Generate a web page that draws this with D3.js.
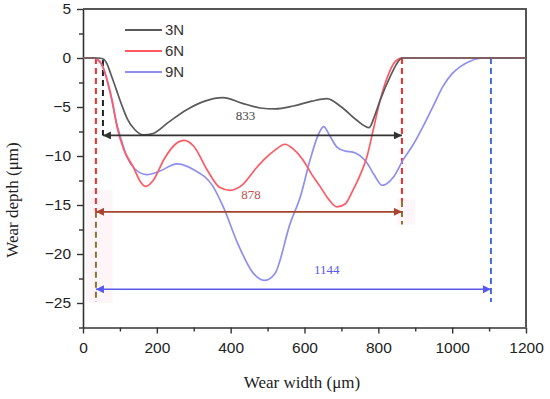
<!DOCTYPE html>
<html>
<head>
<meta charset="utf-8">
<script src="https://cdn.jsdelivr.net/npm/d3@7"></script>
<style>
  body { margin: 0; background: #fff; }
  svg { display: block; }
</style>
</head>
<body>
<div id="chart"></div>
<script>
// profile data (x in um, depth in um)
const x3N = [0, 40, 55, 65, 75, 90, 105, 120, 140, 163, 190, 230, 280, 330, 379, 430, 480, 520, 570, 620, 661, 700, 740, 775, 790, 805, 832, 853, 864, 900, 1200];
const y3N = [0, 0, -0.1, -0.6, -1.6, -3.2, -4.8, -6.2, -7.3, -7.85, -7.7, -6.6, -5.3, -4.4, -4.05, -4.6, -5.1, -5.2, -4.9, -4.4, -4.15, -5.0, -6.3, -7.1, -5.9, -4.3, -1.9, -0.4, 0, 0, 0];

const x6N = [0, 30, 40, 55, 65, 80, 92, 110, 136, 155, 170, 190, 220, 250, 274, 300, 336, 370, 398, 430, 470, 498, 520, 547, 570, 596, 620, 642, 665, 688, 710, 731, 750, 769, 787, 805, 825, 845, 864, 900, 1200];
const y6N = [0, 0, -0.2, -1.0, -2.2, -4.5, -7.0, -9.3, -11.1, -12.6, -13.1, -12.5, -10.3, -8.8, -8.4, -9.0, -11.4, -13.2, -13.5, -13.0, -11.2, -10.1, -9.4, -8.8, -9.3, -10.4, -11.9, -13.1, -14.4, -15.2, -14.9, -13.5, -12.0, -10.1, -7.2, -4.3, -1.9, -0.4, 0, 0, 0];

const x9N = [0, 30, 45, 60, 75, 90, 105, 119, 140, 173, 210, 254, 300, 352, 380, 420, 460, 493, 520, 561, 590, 615, 640, 652, 668, 688, 710, 731, 769, 790, 810, 840, 867, 895, 921, 950, 975, 1000, 1021, 1050, 1084, 1200];
const y9N = [0, 0, -0.3, -1.6, -3.8, -6.5, -8.5, -10.1, -11.3, -11.9, -11.5, -10.8, -11.4, -13.1, -15.2, -19.0, -21.9, -22.7, -22.0, -16.9, -14.0, -10.4, -7.6, -7.0, -7.9, -9.1, -9.5, -9.6, -10.7, -12.0, -13.0, -12.2, -10.4, -8.8, -7.0, -4.8, -2.9, -1.6, -0.9, -0.3, 0, 0];

const seriesNames = ["3N", "6N", "9N"];
const seriesColors = ["#5a5a5a", "#ff5a64", "#8f8ff2"];

// width annotations: [left x, right x, arrow depth, label]
const spanLabels = ["833", "878", "1144"];
const spanLeft = [54, 35, 35];
const spanRight = [864, 864, 1105];
const spanDepth = [-7.9, -15.7, -23.6];
const spanColors = ["#333333", "#a8432f", "#5858ee"];
const labelColors = ["#444444", "#c0504d", "#5a5af0"];

const xTicks = [0, 200, 400, 600, 800, 1000, 1200];
const yTicks = [5, 0, -5, -10, -15, -20, -25];

const W = 550, H = 399;
const svg = d3.select("#chart").append("svg").attr("width", W).attr("height", H);

const x = d3.scaleLinear().domain([0, 1200]).range([83, 526]);
const y = d3.scaleLinear().domain([-27.5, 5]).range([327.5, 9]);

const defs = svg.append("defs");
spanColors.forEach((c, i) => {
  defs.append("marker")
    .attr("id", "arr" + i)
    .attr("viewBox", "0 0 10 10")
    .attr("refX", 10).attr("refY", 5)
    .attr("markerWidth", 9).attr("markerHeight", 8)
    .attr("markerUnits", "userSpaceOnUse")
    .attr("orient", "auto-start-reverse")
    .append("path").attr("d", "M0,0L10,5L0,10Z").attr("fill", c);
});

// faint pink highlight around the red span ends
const pink = svg.append("g").attr("fill", "#fdeef3").attr("opacity", 0.6);
pink.append("rect")
  .attr("x", x(8)).attr("y", y(-13.5))
  .attr("width", x(80) - x(8)).attr("height", y(-25) - y(-13.5));
pink.append("rect")
  .attr("x", x(850)).attr("y", y(-14.4))
  .attr("width", x(900) - x(850)).attr("height", y(-17) - y(-14.4));

// axes
const axisColor = "#333";
const xAxis = svg.append("g").attr("transform", `translate(0,${y(-27.5)})`)
  .call(d3.axisBottom(x).tickValues(xTicks).tickSize(6).tickSizeOuter(0).tickFormat(d3.format("d")));
svg.append("g").attr("transform", `translate(0,${y(-27.5)})`)
  .call(d3.axisBottom(x).tickValues(d3.range(100, 1200, 200)).tickSize(4).tickFormat(""))
  .select(".domain").remove();
const yAxis = svg.append("g").attr("transform", `translate(${x(0)},0)`)
  .call(d3.axisLeft(y).tickValues(yTicks).tickSize(6).tickSizeOuter(0)
    .tickFormat(d => d < 0 ? "\u2212" + Math.abs(d) : d));
svg.append("g").attr("transform", `translate(${x(0)},0)`)
  .call(d3.axisLeft(y).tickValues([2.5, -2.5, -7.5, -12.5, -17.5, -22.5, -27.5]).tickSize(4).tickFormat(""))
  .select(".domain").remove();

svg.selectAll(".domain").attr("stroke", axisColor).attr("stroke-width", 1.6);
svg.selectAll(".tick line").attr("stroke", axisColor).attr("stroke-width", 1.4);
xAxis.selectAll("text").attr("font-family", "Liberation Sans, Arial, sans-serif")
  .attr("font-size", 15.5).attr("fill", "#222").attr("dy", "1.05em");
yAxis.selectAll("text").attr("font-family", "Liberation Sans, Arial, sans-serif")
  .attr("font-size", 15.5).attr("fill", "#222").attr("x", -12);

// top and right frame
svg.append("path")
  .attr("d", `M${x(0)},${y(5)}H${x(1200)}V${y(-27.5)}`)
  .attr("fill", "none").attr("stroke", "#555").attr("stroke-width", 2);

// dashed guide lines
const guides = svg.append("g").attr("fill", "none").attr("stroke-width", 2).attr("stroke-dasharray", "6,4");
guides.append("line").attr("x1", x(spanLeft[1])).attr("x2", x(spanLeft[1]))
  .attr("y1", y(0)).attr("y2", y(spanDepth[1])).attr("stroke", "#ff2a2a");
guides.append("line").attr("x1", x(spanLeft[1])).attr("x2", x(spanLeft[1]))
  .attr("y1", y(spanDepth[1])).attr("y2", y(-24.9)).attr("stroke", "#8a7235");
guides.append("line").attr("x1", x(spanLeft[0])).attr("x2", x(spanLeft[0]))
  .attr("y1", y(-0.2)).attr("y2", y(spanDepth[0])).attr("stroke", "#222");
guides.append("line").attr("x1", x(spanRight[1])).attr("x2", x(spanRight[1]))
  .attr("y1", y(0)).attr("y2", y(-14.6)).attr("stroke", "#ff2a2a");
guides.append("line").attr("x1", x(spanRight[1])).attr("x2", x(spanRight[1]))
  .attr("y1", y(-14.6)).attr("y2", y(-17)).attr("stroke", "#8a7235");
guides.append("line").attr("x1", x(spanRight[2])).attr("x2", x(spanRight[2]))
  .attr("y1", y(0)).attr("y2", y(-24.9)).attr("stroke", "#3d6fd8");

// curves
const line = d3.line().x(d => x(d[0])).y(d => y(d[1])).curve(d3.curveMonotoneX);
const seriesData = [d3.zip(x3N, y3N), d3.zip(x6N, y6N), d3.zip(x9N, y9N)];
// draw 9N first, then 6N, then 3N
[2, 1, 0].forEach(i => {
  svg.append("path").datum(seriesData[i])
    .attr("fill", "none").attr("stroke", seriesColors[i])
    .attr("stroke-width", 1.7).attr("d", line);
});

// width arrows
spanLabels.forEach((lab, i) => {
  svg.append("line")
    .attr("x1", x(spanLeft[i])).attr("x2", x(spanRight[i]))
    .attr("y1", y(spanDepth[i])).attr("y2", y(spanDepth[i]))
    .attr("stroke", spanColors[i]).attr("stroke-width", 1.6)
    .attr("marker-start", `url(#arr${i})`).attr("marker-end", `url(#arr${i})`);
});
const labelX = [440, 455, 660];
const labelY = [-6.3, -14.4, -22.0];
spanLabels.forEach((lab, i) => {
  svg.append("text").attr("x", x(labelX[i])).attr("y", y(labelY[i]))
    .attr("text-anchor", "middle")
    .attr("font-family", "Liberation Serif, Times New Roman, serif")
    .attr("font-size", 13).attr("fill", labelColors[i]).text(lab);
});

// legend
const legend = svg.append("g");
seriesNames.forEach((n, i) => {
  const ly = 30 + i * 21;
  legend.append("line").attr("x1", 125).attr("x2", 162).attr("y1", ly).attr("y2", ly)
    .attr("stroke", seriesColors[i]).attr("stroke-width", 1.8);
  legend.append("text").attr("x", 165).attr("y", ly).attr("dy", "0.35em")
    .attr("font-family", "Liberation Sans, Arial, sans-serif").attr("font-size", 15)
    .attr("fill", "#333").text(n);
});

// axis titles
svg.append("text").attr("x", 302).attr("y", 388).attr("text-anchor", "middle")
  .attr("font-family", "Liberation Serif, Times New Roman, serif").attr("font-size", 17)
  .attr("fill", "#222").text("Wear width (\u03bcm)");
svg.append("text").attr("transform", "translate(18,200) rotate(-90)").attr("text-anchor", "middle")
  .attr("font-family", "Liberation Serif, Times New Roman, serif").attr("font-size", 17)
  .attr("fill", "#222").text("Wear depth (\u03bcm)");
</script>
</body>
</html>
